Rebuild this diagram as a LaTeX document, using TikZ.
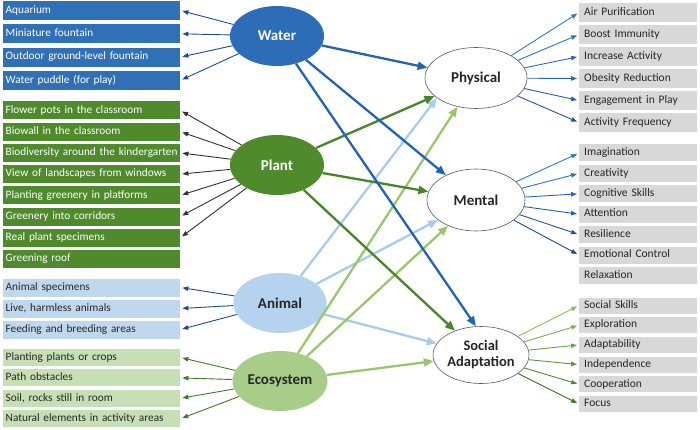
\documentclass[tikz,border=0pt]{standalone}
\usepackage{fontspec}
\setmainfont{Carlito}
\usetikzlibrary{arrows.meta,shapes.geometric}

% colori
\definecolor{acqua}{HTML}{2D6DB7}
\definecolor{acquabox}{HTML}{3070B6}
\definecolor{pianta}{HTML}{4F8A2D}
\definecolor{animale}{HTML}{B5D2EE}
\definecolor{animalebox}{HTML}{BFD8EE}
\definecolor{eco}{HTML}{A7CD88}
\definecolor{ecobox}{HTML}{C6DFB5}
\definecolor{grigio}{HTML}{D8D8D8}
\definecolor{testo}{HTML}{262626}
\definecolor{bordo}{HTML}{5A5A5A}
\definecolor{lacqua}{HTML}{2263B5}
\definecolor{lpianta}{HTML}{4A8429}
\definecolor{lanimale}{HTML}{A8CBEE}
\definecolor{leco}{HTML}{98C86C}
\definecolor{blusc}{HTML}{1F4A8E}
\definecolor{blucl}{HTML}{2E7BD0}
\definecolor{verdecl}{HTML}{86C05A}
\definecolor{verdesc}{HTML}{3F7D25}

\begin{document}
\begin{tikzpicture}[x=1pt, y=-1pt,
  voce/.style={anchor=west, text width=172pt, inner xsep=2.5pt, inner ysep=0pt,
    minimum height=#1, text height=8pt, text depth=2.5pt, align=left,
    font=\fontsize{11.3}{12}\selectfont},
  voce/.default=19pt,
  rvoce/.style={anchor=west, fill=grigio, text=testo, text width=108pt,
    inner xsep=5pt, inner ysep=0pt, minimum height=#1, text height=8pt,
    text depth=2.5pt, align=left, font=\fontsize{11.5}{12}\selectfont},
  rvoce/.default=19pt,
  fonte/.style={ellipse, inner sep=-10pt, minimum width=94pt, minimum height=60pt,
    font=\fontsize{15}{16}\selectfont\bfseries},
  esito/.style={ellipse, fill=white, draw=bordo, line width=0.6pt, inner sep=-10pt,
    text=testo, align=center, font=\fontsize{15}{16}\selectfont\bfseries},
  sottile/.style={-{Triangle[length=6pt,width=4.5pt]}, line width=0.9pt, shorten >=2pt},
  spessa/.style={-{Triangle[length=10pt,width=8pt]}, line width=2.3pt},
]
\useasboundingbox (0,0) rectangle (700,430);

% Sorgenti
\node[fonte, fill=acqua, text=white] (water) at (277,36) {Water};
\node[fonte, fill=pianta, text=white] (plant) at (277,165) {Plant};
\node[fonte, fill=animale, text=testo, minimum width=93pt] (animal) at (280,303) {Animal};
\node[fonte, fill=eco, text=testo, minimum width=95pt] (eco) at (280,381) {Ecosystem};

% Esiti
\node[esito, minimum width=102pt, minimum height=61pt] (phys) at (476,78) {Physical};
\node[esito, minimum width=98pt, minimum height=62pt] (ment) at (476,200) {Mental};
\node[esito, minimum width=96pt, minimum height=57pt, font=\fontsize{14.5}{16}\selectfont\bfseries]
  (soc) at (481,355) {Social\\Adaptation};

% Voci a sinistra
\foreach \t [count=\i] in {Aquarium, Miniature fountain, Outdoor ground-level fountain,
    Water puddle (for play)}
  \node[voce=19pt, fill=acquabox, text=white] (w\i) at (3,{10.5+23.3*(\i-1)}) {\t};
\foreach \t [count=\i] in {Flower pots in the classroom, Biowall in the classroom,
    Biodiversity around the kindergarten, View of landscapes from windows,
    Planting greenery in platforms, Greenery into corridors, Real plant specimens,
    Greening roof}
  \node[voce=18pt, fill=pianta, text=white] (g\i) at (3,{110.5+21.2*(\i-1)}) {\t};
\foreach \t [count=\i] in {Animal specimens, {Live, harmless animals},
    Feeding and breeding areas}
  \node[voce=18pt, fill=animalebox, text=testo] (a\i) at (3,{287.5+21*(\i-1)}) {\t};
\foreach \t [count=\i] in {Planting plants or crops, Path obstacles,
    {Soil, rocks still in room}, Natural elements in activity areas}
  \node[voce=17pt, fill=ecobox, text=testo] (e\i) at (3,{357.5+20.4*(\i-1)}) {\t};

% Voci a destra
\foreach \t [count=\i] in {Air Purification, Boost Immunity, Increase Activity,
    Obesity Reduction, Engagement in Play, Activity Frequency}
  \node[rvoce=19pt] (p\i) at (579,{12.5+22*(\i-1)}) {\t};
\foreach \t [count=\i] in {Imagination, Creativity, Cognitive Skills, Attention,
    Resilience, Emotional Control, Relaxation}
  \node[rvoce=17pt] (m\i) at (579,{153+20.4*(\i-1)}) {\t};
\foreach \t [count=\i] in {Social Skills, Exploration, Adaptability, Independence,
    Cooperation, Focus}
  \node[rvoce=16pt] (s\i) at (579,{305.5+19.7*(\i-1)}) {\t};

% Frecce sottili a sinistra
\foreach \i in {1,...,4} \draw[sottile, blusc] (water) -- (w\i.east);
\foreach \i in {1,...,7} \draw[sottile, black!80] (plant) -- (g\i.east);
\foreach \i in {1,...,3} \draw[sottile, blusc] (animal) -- (a\i.east);
\foreach \i in {1,...,4} \draw[sottile, verdesc] (eco) -- (e\i.east);

% Frecce sottili a destra
\foreach \i [evaluate=\i as \k using int(100-15*(\i-1))] in {1,...,6}
  \draw[sottile, draw=blucl!\k!blusc] (phys) -- (p\i.west);
\foreach \i [evaluate=\i as \k using int(100-20*(\i-1))] in {1,...,6}
  \draw[sottile, draw=blucl!\k!blusc] (ment) -- (m\i.west);
\foreach \i [evaluate=\i as \k using int(100-20*(\i-1))] in {1,...,6}
  \draw[sottile, draw=verdecl!\k!verdesc] (soc) -- (s\i.west);

% Frecce spesse al centro
\draw[spessa, lanimale] (animal) -- (phys.207);
\draw[spessa, lanimale] (animal) -- (ment);
\draw[spessa, lanimale] (animal) -- (soc);
\draw[spessa, leco] (eco) -- (phys);
\draw[spessa, leco] (eco) -- (ment);
\draw[spessa, leco] (eco) -- (soc);
\draw[spessa, lpianta] (plant) -- (phys);
\draw[spessa, lpianta] (plant) -- (ment);
\draw[spessa, lpianta] (plant) -- (soc);
\draw[spessa, lacqua] (water) -- (phys);
\draw[spessa, lacqua] (water) -- (ment);
\draw[spessa, lacqua] (water) -- (soc.100);
\end{tikzpicture}
\end{document}
